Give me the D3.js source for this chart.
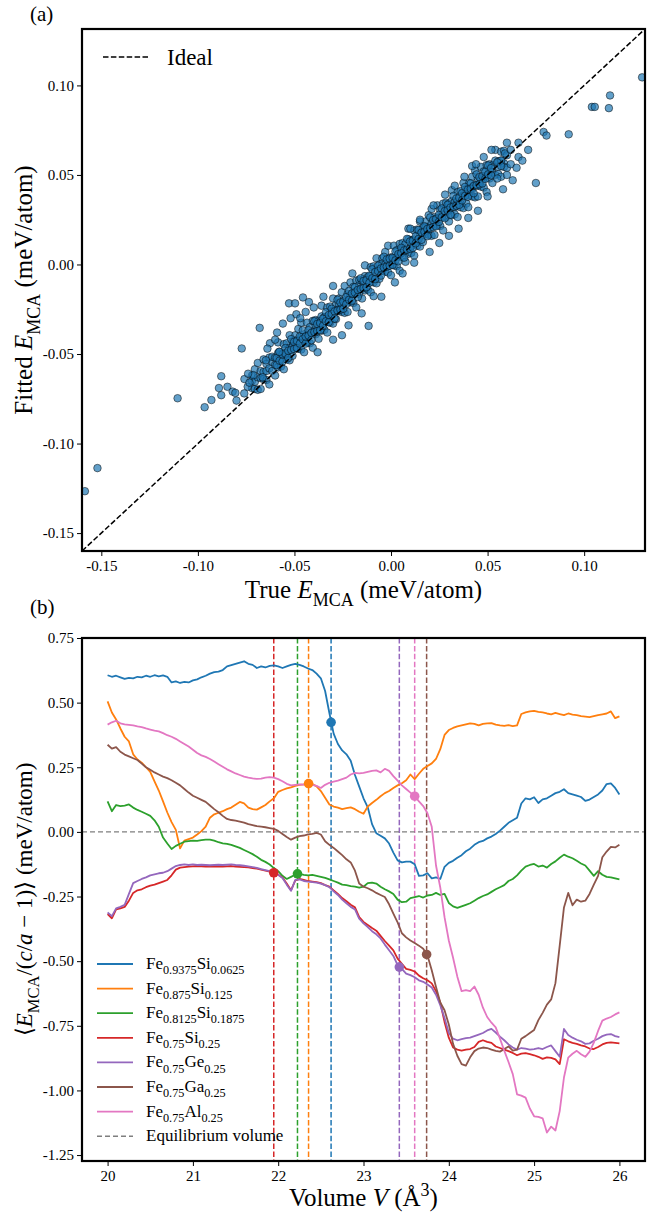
<!DOCTYPE html>
<html>
<head>
<meta charset="utf-8">
<script src="https://cdn.jsdelivr.net/npm/d3@7"></script>
<style>
  body { margin: 0; background: #fff; }
  svg { display: block; font-family: "Liberation Serif", "Times New Roman", serif; }
</style>
</head>
<body>
<div id="chart"></div>
<script>
'use strict';

// ---- panel (a): true vs fitted E_MCA (meV/atom) ----
var bandPoints = [
  [-0.0720,-0.0620],[-0.0720,-0.0690],[-0.0720,-0.0650],
  [-0.0705,-0.0695],[-0.0705,-0.0585],[-0.0705,-0.0655],
  [-0.0690,-0.0630],[-0.0690,-0.0700],[-0.0690,-0.0550],
  [-0.0675,-0.0595],[-0.0675,-0.0635],[-0.0675,-0.0695],
  [-0.0660,-0.0530],[-0.0660,-0.0600],[-0.0660,-0.0640],
  [-0.0645,-0.0645],[-0.0645,-0.0555],[-0.0645,-0.0595],
  [-0.0630,-0.0580],[-0.0630,-0.0520],[-0.0630,-0.0670],
  [-0.0615,-0.0545],[-0.0615,-0.0595],[-0.0615,-0.0515],
  [-0.0600,-0.0620],[-0.0600,-0.0520],[-0.0600,-0.0560],
  [-0.0585,-0.0495],[-0.0585,-0.0575],[-0.0585,-0.0435],
  [-0.0570,-0.0530],[-0.0570,-0.0500],[-0.0570,-0.0570],
  [-0.0555,-0.0445],[-0.0555,-0.0585],[-0.0555,-0.0495],
  [-0.0540,-0.0510],[-0.0540,-0.0440],[-0.0540,-0.0530],
  [-0.0525,-0.0465],[-0.0525,-0.0395],[-0.0525,-0.0535],
  [-0.0510,-0.0430],[-0.0510,-0.0510],[-0.0510,-0.0460],
  [-0.0495,-0.0395],[-0.0495,-0.0465],[-0.0495,-0.0425],
  [-0.0480,-0.0470],[-0.0480,-0.0360],[-0.0480,-0.0430],
  [-0.0465,-0.0405],[-0.0465,-0.0475],[-0.0465,-0.0325],
  [-0.0450,-0.0390],[-0.0450,-0.0430],[-0.0450,-0.0490],
  [-0.0435,-0.0325],[-0.0435,-0.0395],[-0.0435,-0.0435],
  [-0.0420,-0.0440],[-0.0420,-0.0350],[-0.0420,-0.0390],
  [-0.0405,-0.0375],[-0.0405,-0.0315],[-0.0405,-0.0465],
  [-0.0390,-0.0340],[-0.0390,-0.0390],[-0.0390,-0.0310],
  [-0.0375,-0.0415],[-0.0375,-0.0315],[-0.0375,-0.0355],
  [-0.0360,-0.0290],[-0.0360,-0.0370],[-0.0360,-0.0230],
  [-0.0345,-0.0325],[-0.0345,-0.0295],[-0.0345,-0.0365],
  [-0.0330,-0.0240],[-0.0330,-0.0380],[-0.0330,-0.0290],
  [-0.0315,-0.0305],[-0.0315,-0.0235],[-0.0315,-0.0325],
  [-0.0300,-0.0260],[-0.0300,-0.0190],[-0.0300,-0.0330],
  [-0.0285,-0.0225],[-0.0285,-0.0305],[-0.0285,-0.0255],
  [-0.0270,-0.0190],[-0.0270,-0.0260],[-0.0270,-0.0220],
  [-0.0255,-0.0265],[-0.0255,-0.0155],[-0.0255,-0.0225],
  [-0.0240,-0.0200],[-0.0240,-0.0270],[-0.0240,-0.0120],
  [-0.0225,-0.0165],[-0.0225,-0.0205],[-0.0225,-0.0265],
  [-0.0210,-0.0100],[-0.0210,-0.0170],[-0.0210,-0.0210],
  [-0.0195,-0.0215],[-0.0195,-0.0125],[-0.0195,-0.0165],
  [-0.0180,-0.0150],[-0.0180,-0.0090],[-0.0180,-0.0240],
  [-0.0165,-0.0115],[-0.0165,-0.0165],[-0.0165,-0.0085],
  [-0.0150,-0.0190],[-0.0150,-0.0090],[-0.0150,-0.0130],
  [-0.0135,-0.0065],[-0.0135,-0.0145],[-0.0135,-0.0005],
  [-0.0120,-0.0100],[-0.0120,-0.0070],[-0.0120,-0.0140],
  [-0.0105,-0.0015],[-0.0105,-0.0155],[-0.0105,-0.0065],
  [-0.0090,-0.0080],[-0.0090,-0.0010],[-0.0090,-0.0100],
  [-0.0075,-0.0035],[-0.0075,0.0035],[-0.0075,-0.0105],
  [-0.0060,0.0000],[-0.0060,-0.0080],[-0.0060,-0.0030],
  [-0.0045,0.0035],[-0.0045,-0.0035],[-0.0045,0.0005],
  [-0.0030,-0.0040],[-0.0030,0.0070],[-0.0030,0.0000],
  [-0.0015,0.0025],[-0.0015,-0.0045],[-0.0015,0.0105],
  [0.0000,0.0040],[0.0000,0.0000],[0.0000,-0.0060],
  [0.0015,0.0105],[0.0015,0.0035],[0.0015,-0.0005],
  [0.0030,-0.0010],[0.0030,0.0080],[0.0030,0.0040],
  [0.0045,0.0055],[0.0045,0.0115],[0.0045,-0.0035],
  [0.0060,0.0090],[0.0060,0.0040],[0.0060,0.0120],
  [0.0075,0.0015],[0.0075,0.0115],[0.0075,0.0075],
  [0.0090,0.0140],[0.0090,0.0060],[0.0090,0.0200],
  [0.0105,0.0105],[0.0105,0.0135],[0.0105,0.0065],
  [0.0120,0.0190],[0.0120,0.0050],[0.0120,0.0140],
  [0.0135,0.0125],[0.0135,0.0195],[0.0135,0.0105],
  [0.0150,0.0170],[0.0150,0.0240],[0.0150,0.0100],
  [0.0165,0.0205],[0.0165,0.0125],[0.0165,0.0175],
  [0.0180,0.0240],[0.0180,0.0170],[0.0180,0.0210],
  [0.0195,0.0165],[0.0195,0.0275],[0.0195,0.0205],
  [0.0210,0.0230],[0.0210,0.0160],[0.0210,0.0310],
  [0.0225,0.0265],[0.0225,0.0225],[0.0225,0.0165],
  [0.0240,0.0330],[0.0240,0.0260],[0.0240,0.0220],
  [0.0255,0.0215],[0.0255,0.0305],[0.0255,0.0265],
  [0.0270,0.0280],[0.0270,0.0340],[0.0270,0.0190],
  [0.0285,0.0315],[0.0285,0.0265],[0.0285,0.0345],
  [0.0300,0.0240],[0.0300,0.0340],[0.0300,0.0300],
  [0.0315,0.0355],[0.0315,0.0275],[0.0315,0.0415],
  [0.0330,0.0320],[0.0330,0.0350],[0.0330,0.0280],
  [0.0345,0.0405],[0.0345,0.0265],[0.0345,0.0355],
  [0.0360,0.0340],[0.0360,0.0410],[0.0360,0.0320],
  [0.0375,0.0385],[0.0375,0.0455],[0.0375,0.0315],
  [0.0390,0.0420],[0.0390,0.0340],[0.0390,0.0390],
  [0.0405,0.0455],[0.0405,0.0385],[0.0405,0.0425],
  [0.0420,0.0380],[0.0420,0.0490],[0.0420,0.0420],
  [0.0435,0.0445],[0.0435,0.0375],[0.0435,0.0525],
  [0.0450,0.0480],[0.0450,0.0440],[0.0450,0.0380],
  [0.0465,0.0545],[0.0465,0.0475],[0.0465,0.0435],
  [0.0480,0.0430],[0.0480,0.0520],[0.0480,0.0480],
  [0.0495,0.0495],[0.0495,0.0555],[0.0495,0.0405],
  [0.0510,0.0530],[0.0510,0.0480],[0.0510,0.0560],
  [0.0525,0.0455],[0.0525,0.0555],[0.0525,0.0515],
  [0.0540,0.0580],[0.0540,0.0500],[0.0540,0.0640],
  [0.0555,0.0545],[0.0555,0.0575],[0.0555,0.0505],
  [0.0570,0.0630],[0.0570,0.0490],[0.0570,0.0580],
  [0.0585,0.0565],[0.0585,0.0635],[0.0585,0.0545],
  [0.0600,0.0610],[0.0600,0.0680],[0.0600,0.0540]
];

var corePoints = [
  [-0.0592,-0.0522],[-0.0592,-0.0562],[-0.0577,-0.0537],[-0.0577,-0.0487],
  [-0.0562,-0.0542],[-0.0562,-0.0502],[-0.0547,-0.0467],[-0.0547,-0.0497],
  [-0.0532,-0.0482],[-0.0532,-0.0522],[-0.0517,-0.0417],[-0.0517,-0.0477],
  [-0.0502,-0.0472],[-0.0502,-0.0432],[-0.0487,-0.0427],[-0.0487,-0.0467],
  [-0.0472,-0.0402],[-0.0472,-0.0442],[-0.0457,-0.0417],[-0.0457,-0.0367],
  [-0.0442,-0.0442],[-0.0442,-0.0402],[-0.0427,-0.0367],[-0.0427,-0.0397],
  [-0.0412,-0.0382],[-0.0412,-0.0422],[-0.0397,-0.0317],[-0.0397,-0.0377],
  [-0.0382,-0.0372],[-0.0382,-0.0332],[-0.0367,-0.0327],[-0.0367,-0.0367],
  [-0.0352,-0.0302],[-0.0352,-0.0342],[-0.0337,-0.0317],[-0.0337,-0.0267],
  [-0.0322,-0.0322],[-0.0322,-0.0282],[-0.0307,-0.0247],[-0.0307,-0.0277],
  [-0.0292,-0.0262],[-0.0292,-0.0302],[-0.0277,-0.0197],[-0.0277,-0.0257],
  [-0.0262,-0.0252],[-0.0262,-0.0212],[-0.0247,-0.0207],[-0.0247,-0.0247],
  [-0.0232,-0.0182],[-0.0232,-0.0222],[-0.0217,-0.0197],[-0.0217,-0.0147],
  [-0.0202,-0.0202],[-0.0202,-0.0162],[-0.0187,-0.0127],[-0.0187,-0.0157],
  [-0.0172,-0.0142],[-0.0172,-0.0182],[-0.0157,-0.0077],[-0.0157,-0.0137],
  [-0.0142,-0.0132],[-0.0142,-0.0092],[-0.0127,-0.0087],[-0.0127,-0.0127],
  [-0.0112,-0.0062],[-0.0112,-0.0102],[-0.0097,-0.0077],[-0.0097,-0.0027],
  [-0.0082,-0.0082],[-0.0082,-0.0042],[-0.0067,-0.0007],[-0.0067,-0.0037],
  [-0.0052,-0.0022],[-0.0052,-0.0062],[-0.0037,0.0043],[-0.0037,-0.0017],
  [-0.0022,-0.0012],[-0.0022,0.0028],[-0.0007,0.0033],[-0.0007,-0.0007],
  [0.0008,0.0038],[0.0008,-0.0002],[0.0023,0.0023],[0.0023,0.0073],
  [0.0038,0.0018],[0.0038,0.0058],[0.0053,0.0093],[0.0053,0.0063],
  [0.0068,0.0078],[0.0068,0.0038],[0.0083,0.0143],[0.0083,0.0083],
  [0.0098,0.0088],[0.0098,0.0128],[0.0113,0.0133],[0.0113,0.0093],
  [0.0128,0.0158],[0.0128,0.0118],[0.0143,0.0143],[0.0143,0.0193],
  [0.0158,0.0138],[0.0158,0.0178],[0.0173,0.0213],[0.0173,0.0183],
  [0.0188,0.0198],[0.0188,0.0158],[0.0203,0.0263],[0.0203,0.0203],
  [0.0218,0.0208],[0.0218,0.0248],[0.0233,0.0253],[0.0233,0.0213],
  [0.0248,0.0278],[0.0248,0.0238],[0.0263,0.0263],[0.0263,0.0313],
  [0.0278,0.0258],[0.0278,0.0298],[0.0293,0.0333],[0.0293,0.0303],
  [0.0308,0.0318],[0.0308,0.0278],[0.0323,0.0383],[0.0323,0.0323],
  [0.0338,0.0328],[0.0338,0.0368],[0.0353,0.0373],[0.0353,0.0333],
  [0.0368,0.0398],[0.0368,0.0358],[0.0383,0.0383],[0.0383,0.0433],
  [0.0398,0.0378],[0.0398,0.0418],[0.0413,0.0453],[0.0413,0.0423],
  [0.0428,0.0438],[0.0428,0.0398],[0.0443,0.0503],[0.0443,0.0443],
  [0.0458,0.0448],[0.0458,0.0488],[0.0473,0.0493],[0.0473,0.0453],
  [0.0488,0.0518],[0.0488,0.0478],[0.0503,0.0503],[0.0503,0.0553],
  [0.0518,0.0498],[0.0518,0.0538]
];

var outlierPoints = [
  [-0.1585,-0.1266],[-0.1520,-0.1137],[-0.1105,-0.0747],[-0.0965,-0.0797],
  [-0.0930,-0.0757],[-0.0879,-0.0624],[-0.0891,-0.0690],[-0.0879,-0.0730],
  [-0.0847,-0.0683],[-0.0820,-0.0710],[-0.0806,-0.0717],[-0.0773,-0.0469],
  [-0.0759,-0.0640],[-0.0742,-0.0683],[-0.0733,-0.0660],[-0.0713,-0.0618],
  [-0.0680,-0.0354],[-0.0665,-0.0630],[-0.0648,-0.0535],[-0.0627,-0.0440],
  [-0.0590,-0.0380],[-0.0579,-0.0488],[-0.0528,-0.0217],[-0.0497,-0.0217],
  [-0.0490,-0.0278],[-0.0456,-0.0184],[-0.0425,-0.0210],[-0.0442,-0.0265],
  [-0.0254,-0.0395],[-0.0152,-0.0273],[-0.0116,-0.0343],[-0.0090,-0.0177],
  [-0.0640,-0.0470],[-0.0600,-0.0420],[-0.0560,-0.0330],[-0.0520,-0.0300],
  [-0.0470,-0.0300],[-0.0400,-0.0240],[-0.0350,-0.0180],[-0.0300,-0.0120],
  [-0.0200,-0.0050],[-0.0380,-0.0490],[-0.0300,-0.0420],[-0.0220,-0.0340],
  [-0.0050,-0.0180],[0.0020,-0.0100],[-0.0800,-0.0760],[-0.0760,-0.0720],
  [-0.0740,-0.0610],
  [0.1300,0.1045],[0.1134,0.0944],[0.1128,0.0873],[0.1040,0.0880],
  [0.1055,0.0880],[0.0920,0.0727],[0.0790,0.0740],[0.0805,0.0720],
  [0.0710,0.0640],[0.0750,0.0455],[0.0630,0.0470],[0.0660,0.0600],
  [0.0680,0.0580],[0.0620,0.0560],[0.0570,0.0580],[0.0590,0.0620],
  [0.0650,0.0540],[0.0550,0.0480],[0.0580,0.0420],[0.0500,0.0380],
  [0.0450,0.0300],[0.0400,0.0260],[0.0350,0.0200],[0.0300,0.0160],
  [0.0250,0.0120],[0.0200,0.0070],[0.0420,0.0550],[0.0380,0.0490],
  [0.0330,0.0440],[0.0280,0.0390],[0.0220,0.0330],[0.0150,0.0250],
  [0.0100,0.0200],[0.0480,0.0600],[0.0520,0.0640],[0.0600,0.0500],
  [0.0440,0.0560],[0.0060,-0.0050],[0.0120,0.0010],[0.0400,0.0320],
  [0.0550,0.0570],[0.0620,0.0640],[0.0660,0.0680],[0.0570,0.0550]
];

var topTicks = [-0.15, -0.10, -0.05, 0.00, 0.05, 0.10];
var topDomain = [-0.16, 0.1315];

// ---- panel (b): <E_MCA/(c/a-1)> vs volume ----
var volumes = [
  20.00,20.05,20.10,20.15,20.20,20.25,20.30,20.35,20.40,20.45,
  20.50,20.55,20.60,20.65,20.70,20.75,20.80,20.85,20.90,20.95,
  21.00,21.05,21.10,21.15,21.20,21.25,21.30,21.35,21.40,21.45,
  21.50,21.55,21.60,21.65,21.70,21.75,21.80,21.85,21.90,21.95,
  22.00,22.05,22.10,22.15,22.20,22.25,22.30,22.35,22.40,22.45,
  22.50,22.55,22.60,22.65,22.70,22.75,22.80,22.85,22.90,22.95,
  23.00,23.05,23.10,23.15,23.20,23.25,23.30,23.35,23.40,23.45,
  23.50,23.55,23.60,23.65,23.70,23.75,23.80,23.85,23.90,23.95,
  24.00,24.05,24.10,24.15,24.20,24.25,24.30,24.35,24.40,24.45,
  24.50,24.55,24.60,24.65,24.70,24.75,24.80,24.85,24.90,24.95,
  25.00,25.05,25.10,25.15,25.20,25.25,25.30,25.35,25.40,25.45,
  25.50,25.55,25.60,25.65,25.70,25.75,25.80,25.85,25.90,25.95,
  26.00
];

var feSi0625 = [
  0.606,0.600,0.604,0.598,0.592,0.596,0.594,0.600,0.598,0.604,
  0.600,0.606,0.602,0.605,0.600,0.578,0.582,0.576,0.580,0.578,
  0.586,0.590,0.598,0.604,0.612,0.618,0.620,0.626,0.640,0.645,
  0.650,0.655,0.660,0.650,0.646,0.634,0.640,0.636,0.642,0.644,
  0.640,0.634,0.640,0.646,0.650,0.646,0.640,0.632,0.626,0.612,
  0.594,0.545,0.460,0.380,0.340,0.315,0.300,0.275,0.220,0.175,
  0.130,0.095,0.030,-0.005,-0.015,-0.025,-0.045,-0.080,-0.110,-0.118,
  -0.115,-0.115,-0.125,-0.170,-0.168,-0.160,-0.180,-0.176,-0.182,-0.135,
  -0.120,-0.112,-0.100,-0.090,-0.075,-0.065,-0.050,-0.040,-0.035,-0.025,
  -0.018,-0.008,0.005,0.020,0.035,0.045,0.055,0.110,0.130,0.126,
  0.134,0.112,0.126,0.130,0.140,0.150,0.155,0.165,0.150,0.145,
  0.140,0.135,0.120,0.125,0.135,0.145,0.160,0.185,0.188,0.170,
  0.145
];
var feSi125 = [
  0.505,0.462,0.435,0.400,0.368,0.350,0.300,0.280,0.268,0.250,
  0.232,0.195,0.160,0.118,0.075,0.038,0.008,-0.064,-0.034,-0.028,
  -0.022,-0.010,0.003,0.020,0.055,0.068,0.074,0.080,0.088,0.094,
  0.105,0.116,0.110,0.094,0.088,0.086,0.095,0.104,0.118,0.130,
  0.155,0.162,0.168,0.172,0.178,0.182,0.184,0.187,0.185,0.176,
  0.158,0.132,0.106,0.098,0.094,0.088,0.092,0.095,0.088,0.078,
  0.070,0.098,0.112,0.124,0.138,0.150,0.158,0.170,0.180,0.188,
  0.200,0.222,0.204,0.225,0.244,0.255,0.265,0.282,0.320,0.375,
  0.394,0.402,0.408,0.412,0.416,0.420,0.418,0.412,0.418,0.420,
  0.421,0.415,0.412,0.410,0.413,0.409,0.412,0.456,0.462,0.466,
  0.468,0.464,0.462,0.458,0.455,0.460,0.456,0.452,0.458,0.454,
  0.452,0.448,0.446,0.444,0.448,0.452,0.455,0.458,0.466,0.440,
  0.447
];
var feSi1875 = [
  0.118,0.080,0.104,0.100,0.102,0.106,0.094,0.085,0.078,0.070,
  0.062,0.045,0.020,-0.022,-0.045,-0.066,-0.054,-0.046,-0.038,-0.036,
  -0.034,-0.035,-0.032,-0.030,-0.030,-0.034,-0.040,-0.044,-0.046,-0.050,
  -0.056,-0.062,-0.070,-0.078,-0.086,-0.096,-0.108,-0.116,-0.126,-0.140,
  -0.152,-0.170,-0.182,-0.174,-0.166,-0.162,-0.166,-0.168,-0.166,-0.170,
  -0.174,-0.178,-0.184,-0.190,-0.196,-0.204,-0.206,-0.210,-0.212,-0.216,
  -0.212,-0.198,-0.196,-0.200,-0.212,-0.222,-0.230,-0.240,-0.262,-0.272,
  -0.270,-0.256,-0.252,-0.248,-0.254,-0.246,-0.244,-0.236,-0.244,-0.240,
  -0.275,-0.288,-0.294,-0.288,-0.282,-0.276,-0.266,-0.256,-0.248,-0.242,
  -0.232,-0.222,-0.214,-0.206,-0.190,-0.182,-0.168,-0.150,-0.134,-0.128,
  -0.124,-0.134,-0.130,-0.138,-0.124,-0.114,-0.100,-0.088,-0.096,-0.102,
  -0.112,-0.122,-0.130,-0.150,-0.170,-0.152,-0.166,-0.174,-0.176,-0.180,
  -0.184
];
var feSi25 = [
  -0.318,-0.334,-0.300,-0.296,-0.290,-0.266,-0.236,-0.226,-0.222,-0.214,
  -0.208,-0.204,-0.198,-0.192,-0.186,-0.168,-0.146,-0.138,-0.136,-0.134,
  -0.133,-0.132,-0.133,-0.134,-0.133,-0.134,-0.133,-0.134,-0.133,-0.132,
  -0.134,-0.135,-0.136,-0.137,-0.140,-0.142,-0.146,-0.150,-0.154,-0.158,
  -0.166,-0.176,-0.200,-0.226,-0.188,-0.182,-0.186,-0.190,-0.192,-0.194,
  -0.198,-0.206,-0.212,-0.226,-0.240,-0.256,-0.268,-0.282,-0.292,-0.330,
  -0.348,-0.360,-0.372,-0.382,-0.402,-0.422,-0.440,-0.458,-0.490,-0.510,
  -0.530,-0.534,-0.540,-0.556,-0.566,-0.574,-0.586,-0.616,-0.660,-0.735,
  -0.796,-0.834,-0.842,-0.846,-0.842,-0.840,-0.832,-0.812,-0.806,-0.812,
  -0.816,-0.830,-0.836,-0.842,-0.848,-0.855,-0.864,-0.858,-0.856,-0.860,
  -0.864,-0.870,-0.878,-0.872,-0.874,-0.880,-0.898,-0.802,-0.810,-0.816,
  -0.820,-0.826,-0.830,-0.838,-0.840,-0.832,-0.822,-0.816,-0.814,-0.816,
  -0.818
];
var feGe25 = [
  -0.312,-0.326,-0.296,-0.290,-0.282,-0.240,-0.198,-0.190,-0.182,-0.176,
  -0.168,-0.164,-0.160,-0.158,-0.152,-0.142,-0.132,-0.128,-0.126,-0.128,
  -0.126,-0.128,-0.127,-0.128,-0.129,-0.128,-0.127,-0.128,-0.127,-0.126,
  -0.128,-0.129,-0.131,-0.133,-0.136,-0.139,-0.144,-0.148,-0.152,-0.156,
  -0.166,-0.178,-0.204,-0.228,-0.186,-0.184,-0.190,-0.192,-0.194,-0.196,
  -0.200,-0.206,-0.214,-0.230,-0.244,-0.262,-0.276,-0.290,-0.300,-0.336,
  -0.354,-0.368,-0.384,-0.396,-0.412,-0.436,-0.458,-0.480,-0.515,-0.530,
  -0.548,-0.554,-0.562,-0.574,-0.580,-0.590,-0.602,-0.630,-0.670,-0.720,
  -0.778,-0.800,-0.806,-0.802,-0.798,-0.796,-0.790,-0.784,-0.778,-0.768,
  -0.762,-0.776,-0.792,-0.806,-0.822,-0.834,-0.842,-0.836,-0.838,-0.842,
  -0.840,-0.836,-0.840,-0.832,-0.826,-0.848,-0.870,-0.762,-0.786,-0.796,
  -0.804,-0.810,-0.820,-0.818,-0.808,-0.800,-0.790,-0.784,-0.782,-0.790,
  -0.794
];
var feGa25 = [
  0.337,0.322,0.328,0.310,0.299,0.292,0.285,0.278,0.264,0.250,
  0.240,0.230,0.222,0.214,0.208,0.200,0.190,0.180,0.166,0.152,
  0.140,0.132,0.124,0.116,0.102,0.088,0.076,0.062,0.050,0.046,
  0.044,0.040,0.036,0.030,0.026,0.022,0.020,0.018,0.015,0.012,
  0.004,-0.008,-0.020,-0.030,-0.022,-0.016,-0.014,-0.010,-0.008,-0.004,
  -0.010,-0.036,-0.050,-0.062,-0.076,-0.090,-0.106,-0.118,-0.150,-0.200,
  -0.212,-0.218,-0.226,-0.236,-0.244,-0.252,-0.280,-0.316,-0.350,-0.392,
  -0.408,-0.420,-0.430,-0.440,-0.452,-0.478,-0.535,-0.600,-0.660,-0.690,
  -0.745,-0.820,-0.866,-0.898,-0.904,-0.872,-0.848,-0.838,-0.834,-0.836,
  -0.842,-0.847,-0.850,-0.840,-0.830,-0.846,-0.842,-0.800,-0.790,-0.778,
  -0.766,-0.728,-0.700,-0.668,-0.648,-0.585,-0.440,-0.292,-0.236,-0.284,
  -0.262,-0.270,-0.266,-0.240,-0.204,-0.170,-0.098,-0.076,-0.058,-0.060,
  -0.050
];
var feAl25 = [
  0.415,0.424,0.430,0.420,0.416,0.414,0.412,0.408,0.405,0.400,
  0.396,0.392,0.389,0.382,0.374,0.368,0.360,0.350,0.340,0.330,
  0.318,0.305,0.296,0.290,0.282,0.272,0.262,0.252,0.242,0.234,
  0.226,0.220,0.214,0.210,0.207,0.205,0.206,0.210,0.212,0.210,
  0.204,0.196,0.186,0.180,0.182,0.184,0.183,0.184,0.182,0.178,
  0.170,0.182,0.190,0.194,0.198,0.204,0.210,0.222,0.228,0.226,
  0.228,0.232,0.236,0.238,0.230,0.244,0.236,0.216,0.198,0.180,
  0.166,0.152,0.138,0.118,0.100,0.072,0.020,-0.130,-0.215,-0.330,
  -0.420,-0.487,-0.560,-0.616,-0.612,-0.616,-0.598,-0.630,-0.680,-0.716,
  -0.738,-0.756,-0.800,-0.846,-0.890,-0.937,-1.015,-1.020,-1.028,-1.070,
  -1.100,-1.102,-1.108,-1.163,-1.140,-1.155,-1.080,-0.950,-0.873,-0.858,
  -0.847,-0.860,-0.870,-0.850,-0.815,-0.770,-0.730,-0.722,-0.716,-0.706,
  -0.698
];

var seriesValues = [feSi0625, feSi125, feSi1875, feSi25, feGe25, feGa25, feAl25];
var seriesLabels = [
  [['Fe', '0.9375'], ['Si', '0.0625']],
  [['Fe', '0.875'], ['Si', '0.125']],
  [['Fe', '0.8125'], ['Si', '0.1875']],
  [['Fe', '0.75'], ['Si', '0.25']],
  [['Fe', '0.75'], ['Ge', '0.25']],
  [['Fe', '0.75'], ['Ga', '0.25']],
  [['Fe', '0.75'], ['Al', '0.25']]
];
var seriesColors = ['#1f77b4', '#ff7f0e', '#2ca02c', '#d62728', '#9467bd', '#8c564b', '#e377c2'];
var eqVolumes = [22.62, 22.356, 22.226, 21.948, 23.42, 23.74, 23.60];
var eqValues = [0.424, 0.187, -0.162, -0.158, -0.523, -0.474, 0.138];

var bottomXTicks = [20, 21, 22, 23, 24, 25, 26];
var bottomYTicks = [0.75, 0.50, 0.25, 0.00, -0.25, -0.50, -0.75, -1.00, -1.25];

// ---------------------------------------------------------------
var svg = d3.select('#chart').append('svg')
            .attr('width', 662)
            .attr('height', 1216);

// writes text made of pieces: [string, style] with style '', 'i', 'sub', 'sup'
function richText(t, parts, size) {
	var shift = 0;
	parts.forEach(function(p) {
		var s = p[1] || '';
		var target = s === 'sub' ? size * 0.3 : (s === 'sup' ? -size * 0.4 : 0);
		t.append('tspan')
		 .attr('dy', target - shift)
		 .style('font-size', (target !== 0 ? size * 0.72 : size) + 'px')
		 .style('font-style', s === 'i' ? 'italic' : 'normal')
		 .text(p[0]);
		shift = target;
	});
}

function styleAxis(g) {
	g.select('.domain').remove();
	g.selectAll('.tick line').attr('stroke', '#000').attr('stroke-width', 1);
	g.selectAll('.tick text')
	 .attr('fill', '#000')
	 .style('font-family', '"Liberation Serif", serif')
	 .style('font-size', '15px');
}

var fmt2 = function(d) { return d.toFixed(2); };

// ================= panel (a) =================
var A = {l: 82, r: 645, t: 29, b: 551};
var xa = d3.scaleLinear().domain(topDomain).range([A.l, A.r]);
var ya = d3.scaleLinear().domain(topDomain).range([A.b, A.t]);

svg.append('clipPath').attr('id', 'clipA')
   .append('rect').attr('x', A.l).attr('y', A.t)
   .attr('width', A.r - A.l).attr('height', A.b - A.t);

var gA = svg.append('g');

gA.append('g').attr('transform', 'translate(0,' + A.b + ')')
  .call(d3.axisBottom(xa).tickValues(topTicks).tickSize(5).tickPadding(4).tickFormat(fmt2))
  .call(styleAxis);
gA.append('g').attr('transform', 'translate(' + A.l + ',0)')
  .call(d3.axisLeft(ya).tickValues(topTicks).tickSize(5).tickPadding(3).tickFormat(fmt2))
  .call(styleAxis);

var allPoints = bandPoints.concat(corePoints, outlierPoints);

gA.append('g').attr('clip-path', 'url(#clipA)')
  .selectAll('circle')
  .data(allPoints)
  .enter()
  .append('circle')
  .attr('cx', function(d) { return xa(d[0]); })
  .attr('cy', function(d) { return ya(d[1]); })
  .attr('r', 3.8)
  .attr('fill', '#1f77b4')
  .attr('fill-opacity', 0.7)
  .attr('stroke', '#000')
  .attr('stroke-opacity', 0.7)
  .attr('stroke-width', 0.7);

// ideal line y = x
gA.append('line').attr('clip-path', 'url(#clipA)')
  .attr('x1', xa(topDomain[0])).attr('y1', ya(topDomain[0]))
  .attr('x2', xa(topDomain[1])).attr('y2', ya(topDomain[1]))
  .attr('stroke', '#000').attr('stroke-width', 1.5)
  .attr('stroke-dasharray', '5.5,2.4');

gA.append('rect').attr('x', A.l).attr('y', A.t)
  .attr('width', A.r - A.l).attr('height', A.b - A.t)
  .attr('fill', 'none').attr('stroke', '#000').attr('stroke-width', 2.2);

// legend
gA.append('line').attr('x1', 103).attr('x2', 150).attr('y1', 57).attr('y2', 57)
  .attr('stroke', '#000').attr('stroke-width', 1.5).attr('stroke-dasharray', '5.5,2.4');
gA.append('text').attr('x', 167).attr('y', 65).style('font-size', '23px').text('Ideal');

gA.append('text').attr('x', 30).attr('y', 21).style('font-size', '21px').text('(a)');

richText(gA.append('text').attr('x', (A.l + A.r) / 2).attr('y', 598).attr('text-anchor', 'middle'),
	[['True '], ['E', 'i'], ['MCA', 'sub'], [' (meV/atom)']], 25);

richText(gA.append('text').attr('transform', 'translate(32,' + ((A.t + A.b) / 2) + ') rotate(-90)')
	.attr('text-anchor', 'middle'),
	[['Fitted '], ['E', 'i'], ['MCA', 'sub'], [' (meV/atom)']], 25);

// ================= panel (b) =================
var B = {l: 82, r: 645, t: 638, b: 1161};
var xb = d3.scaleLinear().domain([19.7, 26.3]).range([B.l, B.r]);
var yb = d3.scaleLinear().domain([-1.273, 0.75]).range([B.b, B.t]);

svg.append('clipPath').attr('id', 'clipB')
   .append('rect').attr('x', B.l).attr('y', B.t)
   .attr('width', B.r - B.l).attr('height', B.b - B.t);

var gB = svg.append('g');

gB.append('g').attr('transform', 'translate(0,' + B.b + ')')
  .call(d3.axisBottom(xb).tickValues(bottomXTicks).tickSize(5).tickPadding(4).tickFormat(function(d) { return d; }))
  .call(styleAxis);
gB.append('g').attr('transform', 'translate(' + B.l + ',0)')
  .call(d3.axisLeft(yb).tickValues(bottomYTicks).tickSize(5).tickPadding(3).tickFormat(fmt2))
  .call(styleAxis);

var plotB = gB.append('g').attr('clip-path', 'url(#clipB)');

// equilibrium volumes
plotB.selectAll('line.eq')
  .data(eqVolumes)
  .enter()
  .append('line')
  .attr('class', 'eq')
  .attr('x1', function(d) { return xb(d); })
  .attr('x2', function(d) { return xb(d); })
  .attr('y1', B.t).attr('y2', B.b)
  .attr('stroke', function(d, i) { return seriesColors[i]; })
  .attr('stroke-width', 1.5)
  .attr('stroke-dasharray', '5.5,2.4');

plotB.append('line')
  .attr('x1', B.l).attr('x2', B.r)
  .attr('y1', yb(0)).attr('y2', yb(0))
  .attr('stroke', '#7f7f7f').attr('stroke-width', 1.2)
  .attr('stroke-dasharray', '5,3');

var line = d3.line()
             .x(function(d, i) { return xb(volumes[i]); })
             .y(function(d) { return yb(d); });

plotB.selectAll('path.curve')
  .data(seriesValues)
  .enter()
  .append('path')
  .attr('class', 'curve')
  .attr('d', line)
  .attr('fill', 'none')
  .attr('stroke', function(d, i) { return seriesColors[i]; })
  .attr('stroke-width', 1.8)
  .attr('stroke-linejoin', 'round');

plotB.selectAll('circle.eqpt')
  .data(eqVolumes)
  .enter()
  .append('circle')
  .attr('class', 'eqpt')
  .attr('cx', function(d) { return xb(d); })
  .attr('cy', function(d, i) { return yb(eqValues[i]); })
  .attr('r', 4.8)
  .attr('fill', function(d, i) { return seriesColors[i]; });

gB.append('rect').attr('x', B.l).attr('y', B.t)
  .attr('width', B.r - B.l).attr('height', B.b - B.t)
  .attr('fill', 'none').attr('stroke', '#000').attr('stroke-width', 2.2);

// legend
var legendItems = seriesLabels.map(function(lab, i) { return {label: lab, color: seriesColors[i], dash: null}; });
legendItems.push({label: null, color: '#7f7f7f', dash: '5,3'});

var leg = gB.selectAll('g.leg')
  .data(legendItems)
  .enter()
  .append('g')
  .attr('class', 'leg')
  .attr('transform', function(d, i) { return 'translate(97,' + (964 + i * 24.6) + ')'; });

leg.append('line')
   .attr('x1', 0).attr('x2', 36).attr('y1', 0).attr('y2', 0)
   .attr('stroke', function(d) { return d.color; })
   .attr('stroke-width', function(d) { return d.dash ? 1.4 : 1.8; })
   .attr('stroke-dasharray', function(d) { return d.dash; });

leg.each(function(d) {
	var t = d3.select(this).append('text').attr('x', 49).attr('y', 5);
	if (d.label) {
		richText(t, [[d.label[0][0]], [d.label[0][1], 'sub'], [d.label[1][0]], [d.label[1][1], 'sub']], 17);
	} else {
		t.style('font-size', '17px').text('Equilibrium volume');
	}
});

gB.append('text').attr('x', 30).attr('y', 614).style('font-size', '21px').text('(b)');

richText(gB.append('text').attr('x', (B.l + B.r) / 2).attr('y', 1206).attr('text-anchor', 'middle'),
	[['Volume '], ['V', 'i'], [' (Å'], ['3', 'sup'], [')']], 25);

richText(gB.append('text').attr('transform', 'translate(32,' + ((B.t + B.b) / 2) + ') rotate(-90)')
	.attr('text-anchor', 'middle'),
	[['\u27e8'], ['E', 'i'], ['MCA', 'sub'], ['/('], ['c', 'i'], ['/'], ['a', 'i'], [' \u2212 1)\u27e9 (meV/atom)']], 23);
</script>
</body>
</html>
